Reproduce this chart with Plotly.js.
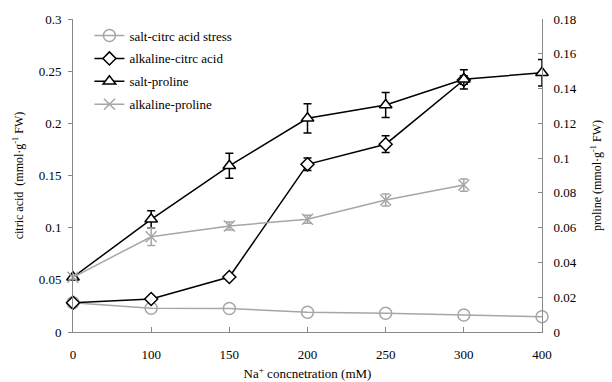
<!DOCTYPE html>
<html><head><meta charset="utf-8">
<script src="https://cdn.plot.ly/plotly-3.0.1.min.js"></script>
<style>html,body{margin:0;padding:0;background:#fff}</style>
</head><body><div id="chart" style="width:612px;height:382px"></div>
<script>
const categories = ["0","100","150","200","250","300","400"];
const saltCitric = [0.028,0.0227,0.0225,0.019,0.018,0.0163,0.0147];
const alkCitricX = ["0","100","150","200","250","300"];
const alkCitric = [0.028,0.0316,0.0527,0.1607,0.180,0.2415];
const alkCitricErr = [0.001,0.002,0.002,0.006,0.008,0.004];
const saltProline = [0.0315,0.0648,0.0956,0.1229,0.1305,0.1453,0.1491];
const saltProlineErr = [0.001,0.005,0.0072,0.0084,0.0072,0.0055,0.0076];
const alkProlineX = ["0","100","150","200","250","300"];
const alkProline = [0.0315,0.0548,0.061,0.0648,0.0759,0.0845];
const alkProlineErr = [0.001,0.005,0.0023,0.0023,0.0035,0.0035];

const gray = "#a6a6a6";
const fam = "Liberation Serif";
const font = {family:fam, size:13, color:"#000"};
const traces = [
 {name:"salt-citrc acid stress", legendgroup:"a", x:categories, y:saltCitric, yaxis:"y", mode:"lines+markers",
  line:{color:gray,width:1.5}, marker:{symbol:"circle-open",size:12,color:gray,line:{width:1.5,color:gray}},
  cliponaxis:false},
 {name:"alkaline-citrc acid", legendgroup:"b", x:alkCitricX, y:alkCitric, yaxis:"y", mode:"lines+markers",
  line:{color:"#000",width:1.5}, marker:{symbol:"diamond",size:10,color:"#fff",line:{width:1.5,color:"#000"}},
  error_y:{type:"data",array:alkCitricErr,color:"#000",thickness:1.5,width:4}, cliponaxis:false},
 {name:"salt-proline", legendgroup:"c", x:categories, y:saltProline, yaxis:"y2", mode:"lines+markers",
  line:{color:"#000",width:1.5}, marker:{symbol:"triangle-up",size:11,color:"#fff",line:{width:1.5,color:"#000"}},
  error_y:{type:"data",array:saltProlineErr,color:"#000",thickness:1.5,width:4}, cliponaxis:false},
 {name:"alkaline-proline", legendgroup:"d", x:alkProlineX, y:alkProline, yaxis:"y2", mode:"lines+markers",
  line:{color:gray,width:1.5}, marker:{symbol:"x-thin-open",size:11,color:gray,line:{width:1.5,color:gray}},
  error_y:{type:"data",array:alkProlineErr,color:gray,thickness:1.5,width:4}, cliponaxis:false}
];
const layout = {
 width:612, height:382, margin:{l:73,r:70,t:19,b:50},
 paper_bgcolor:"#fff", plot_bgcolor:"#fff", font:font, showlegend:true,
 legend:{x:0.035,y:0.995,xanchor:"left",yanchor:"top",bgcolor:"rgba(0,0,0,0)",font:{family:fam,size:13},
  traceorder:"grouped",tracegroupgap:3,itemwidth:30},
 xaxis:{type:"category",range:[0,6],showgrid:false,zeroline:false,showline:true,linecolor:"#888",linewidth:1,
  ticks:"inside",ticklen:5,tickcolor:"#888",tickfont:font,ticklabelstandoff:10,
  title:{text:"Na<sup>+</sup> concnetration (mM)",font:{family:fam,size:13},standoff:8}},
 yaxis:{range:[0,0.3],dtick:0.05,showgrid:false,zeroline:false,showline:true,linecolor:"#888",linewidth:1,
  ticks:"outside",ticklen:4,tickcolor:"#888",tickfont:font,ticklabelstandoff:4,
  title:{text:"citric acid  (mmol·g<sup>-1</sup> FW)",font:{family:fam,size:12},standoff:12}},
 yaxis2:{range:[0,0.18],dtick:0.02,overlaying:"y",side:"right",showgrid:false,zeroline:false,showline:true,linecolor:"#888",linewidth:1,
  ticks:"inside",ticklen:4,tickcolor:"#888",tickfont:font,ticklabelstandoff:8,
  title:{text:"proline (mmol·g<sup>-1</sup> FW)",font:{family:fam,size:12},standoff:16}}
};
Plotly.newPlot("chart",traces,layout,{displayModeBar:false,staticPlot:true});
</script></body></html>
